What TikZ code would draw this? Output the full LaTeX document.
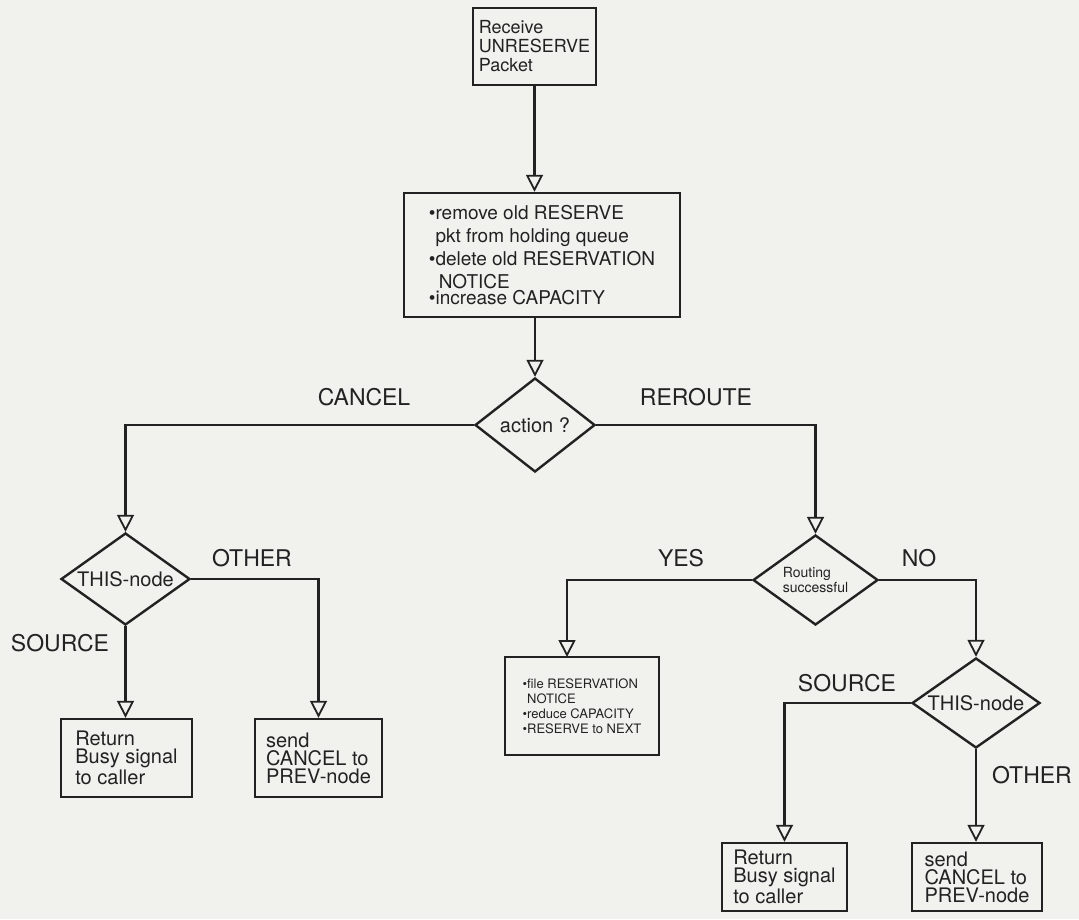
\documentclass[tikz,border=0pt]{standalone}
\usepackage{fontspec}
\setmainfont{TeX Gyre Heros}
\usetikzlibrary{arrows.meta,shapes.geometric}
\definecolor{paper}{RGB}{241,241,238}
\definecolor{ink}{RGB}{34,34,34}
\begin{document}
\begin{tikzpicture}[x=0.5pt,y=-0.5pt,line width=1.2pt,color=ink,
  >={Triangle[open,length=8.5pt,width=8.5pt,line width=0.9pt]},
  box/.style={draw,rectangle,align=left,inner sep=0pt},
  ask/.style={draw,diamond,align=left,inner sep=0pt,font=\fontsize{10}{11}\selectfont},
  lbl/.style={font=\fontsize{11.5}{13}\selectfont}]
 \fill[paper] (0,0) rectangle (1079,919);
 \useasboundingbox (0,0) rectangle (1079,919);
 \node[box,minimum width=61.5pt,minimum height=38.5pt,font=\fontsize{9}{9.5}\selectfont] (recv) at (534.5,46.5) {Receive\\UNRESERVE\\Packet};
 \node[box,minimum width=138pt,minimum height=62pt,font=\fontsize{9.5}{11.5}\selectfont] (purge) at (542,255) {\textbullet remove old RESERVE\\\phantom{\textbullet}pkt from holding queue\\\textbullet delete old RESERVATION\\\phantom{\textbullet\,}NOTICE\\[-3.5pt]\textbullet increase CAPACITY};
 \node[ask,minimum width=60pt,minimum height=47pt,aspect=1.28] (action) at (535,425) {action ?};
 \node[ask,minimum width=64.5pt,minimum height=46pt,aspect=1.4] (thisL) at (125.5,579) {THIS-node};
 \node[ask,minimum width=62.5pt,minimum height=45pt,aspect=1.39,font=\fontsize{7}{7.5}\selectfont] (route) at (815.5,580) {Routing\\successful};
 \node[ask,minimum width=64pt,minimum height=45pt,aspect=1.42] (thisR) at (976,703) {THIS-node};
 \node[box,minimum width=65.5pt,minimum height=39pt,font=\fontsize{10}{9}\selectfont] (retL) at (126.5,758) {Return\\Busy signal\\to caller};
 \node[box,minimum width=63.5pt,minimum height=39pt,font=\fontsize{10}{9}\selectfont] (sendL) at (318.5,758) {send\\CANCEL to\\PREV-node};
 \node[box,minimum width=77pt,minimum height=49pt,font=\fontsize{6.5}{7.5}\selectfont] (file) at (582,706) {\textbullet file RESERVATION\\\phantom{\textbullet}NOTICE\\\textbullet reduce CAPACITY\\\textbullet RESERVE to NEXT};
 \node[box,minimum width=62.5pt,minimum height=34pt,font=\fontsize{10}{9}\selectfont] (retR) at (784.5,877) {Return\\Busy signal\\to caller};
 \node[box,minimum width=65pt,minimum height=34pt,font=\fontsize{10}{9}\selectfont] (sendR) at (977,877) {send\\CANCEL to\\PREV-node};
 \node[lbl] (cancel) at (364,397) {CANCEL};
 \node[lbl] (reroute) at (696,397) {REROUTE};
 \node[lbl] (otherL) at (252,558) {OTHER};
 \node[lbl] (sourceL) at (60,643) {SOURCE};
 \node[lbl] (yes) at (681,558) {YES};
 \node[lbl] (no) at (919,558) {NO};
 \node[lbl] (sourceR) at (847,683) {SOURCE};
 \node[lbl] (otherR) at (1032,775) {OTHER};
 \coordinate (fileIn) at (567,657);
 \draw[->] (recv.south) -- (recv.south |- purge.north);
 \draw[->] (action.north |- purge.south) -- (action.north);
 \draw[->] (action.west) -| (thisL.north);
 \draw[->] (action.east) -| (route.north);
 \draw[->] (thisL.south) -- (thisL.south |- retL.north);
 \draw[->] (thisL.east) -| (sendL.north);
 \draw[->] (route.west) -| (fileIn);
 \draw[->] (route.east) -| (thisR.north);
 \draw[->] (thisR.west) -| (retR.north);
 \draw[->] (thisR.south) -- (thisR.south |- sendR.north);
\end{tikzpicture}
\end{document}
